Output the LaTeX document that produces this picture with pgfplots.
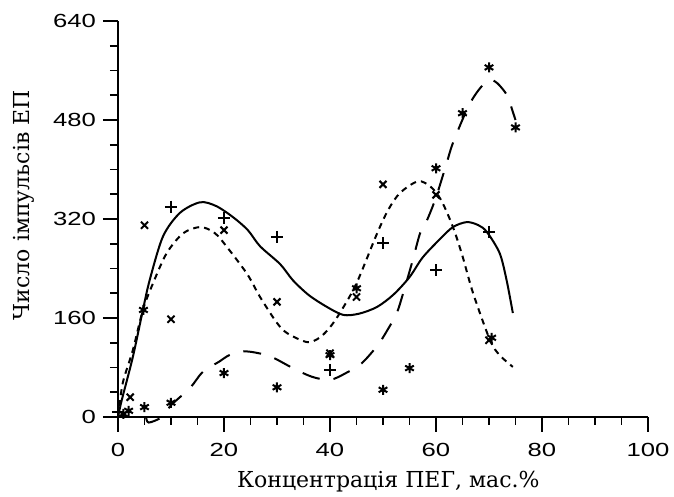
\documentclass[border=0pt]{standalone}
\usepackage{fontspec}
\setmainfont{DejaVu Serif}
\newfontfamily\tickfont[FakeStretch=1.35]{Liberation Sans}
\usepackage{pgfplots}
\pgfplotsset{compat=1.18}

\begin{document}
\begin{tikzpicture}
\begin{axis}[
    scale only axis,
    width=265pt, height=198pt,
    xmin=0, xmax=100, ymin=0, ymax=640,
    axis x line=bottom, axis y line=left,
    axis line style={-, line width=1pt},
    xtick={0,20,...,100}, ytick={0,160,...,640},
    minor xtick={5,10,...,95}, minor ytick={40,80,...,600},
    tick align=outside,
    major tick length=7.5pt, minor tick length=4pt,
    every tick/.style={black, line width=0.9pt},
    /pgf/number format/assume math mode=true,
    ticklabel style={font=\tickfont\fontsize{9.5}{11}\selectfont},
    xticklabel style={yshift=-2pt},
    xlabel={Концентрація ПЕГ, мас.\%},
    ylabel={Число імпульсів ЕП},
    label style={font=\fontsize{11}{13}\selectfont},
    xlabel style={at={(axis description cs:0.51,-0.12)}, anchor=north},
    ylabel style={at={(axis description cs:-0.178,0.535)}, anchor=center},
    clip=false,
]
\coordinate (O) at (axis cs:0,0);
% fitted curves
\addplot[black, line width=1pt, smooth, tension=0.5] coordinates {
  (0,0)(0.7,27)(2.8,97)(4.7,173)(6,222)(8.5,292)(11.7,330)(15.5,347)(18.5,341)
  (21.7,323)(24.5,302)(26.8,276)(30.6,247)(33,221)(36,197)(39.4,178)(42.5,165)
  (45.5,167)(48.9,178)(52,198)(55,226)(57.5,258)(60.8,288)(63.2,307)(65.8,315)
  (68,310)(69.6,299)(72,265)(73.3,222)(74.5,168)};
\addplot[black, line width=1pt, smooth, tension=0.5, dash pattern=on 3pt off 2.5pt] coordinates {
  (0,0)(0.9,55)(2.8,108)(4.7,173)(6.6,216)(9.2,265)(12.3,297)(15.5,307)(18,299)
  (19.8,283)(24.3,232)(26.8,194)(30,152)(32,135)(35.7,121)(38,128)(40,145)(42,170)
  (45,216)(48.9,297)(51,335)(53.2,362)(56.6,381)(59,372)(61,350)(63.2,307)(65,260)
  (67,200)(70.2,124)(72,100)(74.5,81)};
\addplot[black, line width=1pt, smooth, tension=0.5, dash pattern=on 9pt off 7pt] coordinates {
  (5.3,0)(5.8,-9)(8.3,0)(10,19)(13.6,47)(16,73)(19,89)(21,100)(23.5,106)(26,104)
  (29,97)(33,79)(36.6,65)(40,60)(43,71)(46,87)(49,116)(50.8,140)(52.6,168)(53.8,200)
  (55.5,250)(57,297)(58.3,318)(60,355)(62,410)(63.2,443)(66,500)(68,528)(70,545)
  (71.5,540)(73.4,520)(74.5,493)(75,480)};
% measured points
\addplot[only marks, mark=+, mark size=3pt, black, mark options={line width=1pt}] coordinates {
  (0,8)(10,340)(20,321)(30,291)(40,76)(50,281)(60,237)(70,299)};
\addplot[only marks, mark=x, mark size=2.5pt, black, mark options={line width=1pt}] coordinates {
  (2.3,32)(5,310)(10,158)(20,302)(30,186)(40,103)(45,194)(50,376)(60,359)(70,124)};
\addplot[only marks, mark=asterisk, mark size=2.5pt, black, mark options={line width=1pt}] coordinates {
  (1,5)(2,10)(5,16)(4.8,173)(10,23)(20,71)(30,48)(40,100)(45,208)(50,44)(55,79)
  (60,402)(65,491)(70,565)(75,468)(70.5,128)};
\end{axis}
\pgfresetboundingbox
\path (O) ++(-59pt,-40pt) rectangle ++(337pt,248.5pt);
\end{tikzpicture}
\end{document}
